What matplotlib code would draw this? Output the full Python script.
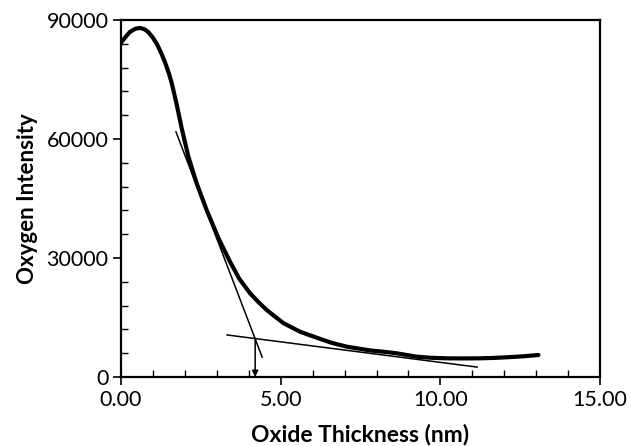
import matplotlib.pyplot as plt
from matplotlib.ticker import MultipleLocator

plt.rcParams['font.family'] = ['Lato', 'DejaVu Sans']

thickness = [0.0, 0.15, 0.28, 0.45, 0.60, 0.75, 0.86, 1.00, 1.12, 1.25,
             1.38, 1.50, 1.59, 1.74, 1.90, 2.11, 2.37, 2.68, 3.05, 3.41,
             3.70, 4.04, 4.30, 4.56, 5.08, 5.61, 6.13, 6.60, 7.07, 7.80,
             8.30, 8.63, 9.26, 9.70, 10.20, 10.70, 11.24, 11.70, 12.08,
             12.60, 13.07]
intensity = [84300, 85800, 87000, 87800, 88000, 87600, 86900, 85500, 84000,
             81800, 79300, 76500, 74000, 68800, 62700, 55500, 48800, 42100,
             35000, 29100, 24800, 21100, 18900, 16900, 13600, 11400, 9900,
             8600, 7640, 6700, 6300, 5970, 5120, 4850, 4710, 4680, 4710,
             4820, 4970, 5220, 5550]

# tangent lines (end points)
tan1_x = [1.72, 4.42]
tan1_y = [61800, 5000]
tan2_x = [3.32, 11.15]
tan2_y = [10600, 2500]

# intersection -> thickness marker
cross_x = 4.2
cross_y = 9700

fig = plt.figure(figsize=(6.31, 4.46), dpi=100)
ax = fig.add_axes([0.1918, 0.1547, 0.7592, 0.8005])

ax.plot(thickness, intensity, color='black', lw=3, solid_capstyle='round',
        solid_joinstyle='round')
ax.plot(tan1_x, tan1_y, color='black', lw=1.1)
ax.plot(tan2_x, tan2_y, color='black', lw=1.1)
ax.annotate('', xy=(cross_x, 0), xytext=(cross_x, cross_y),
            arrowprops=dict(arrowstyle='-|>', color='black', lw=1.1,
                            mutation_scale=9, shrinkA=0, shrinkB=0))

ax.set_xlim(0, 15)
ax.set_ylim(0, 90000)
ax.xaxis.set_major_locator(MultipleLocator(5))
ax.xaxis.set_minor_locator(MultipleLocator(1))
ax.yaxis.set_major_locator(MultipleLocator(30000))
ax.yaxis.set_minor_locator(MultipleLocator(6000))
ax.xaxis.set_major_formatter(lambda v, p: f"{v:.2f}")

ax.tick_params(which='major', direction='out', length=6, width=1.2,
               labelsize=15.5, pad=3)
ax.tick_params(which='minor', direction='in', length=5, width=1.0)
for s in ax.spines.values():
    s.set_linewidth(1.6)

ax.set_xlabel('Oxide Thickness (nm)', fontsize=16.5, fontweight='bold',
              labelpad=10)
ax.set_ylabel('Oxygen Intensity', fontsize=16, fontweight='bold',
              labelpad=6)

fig.savefig('out.png', dpi=100)
